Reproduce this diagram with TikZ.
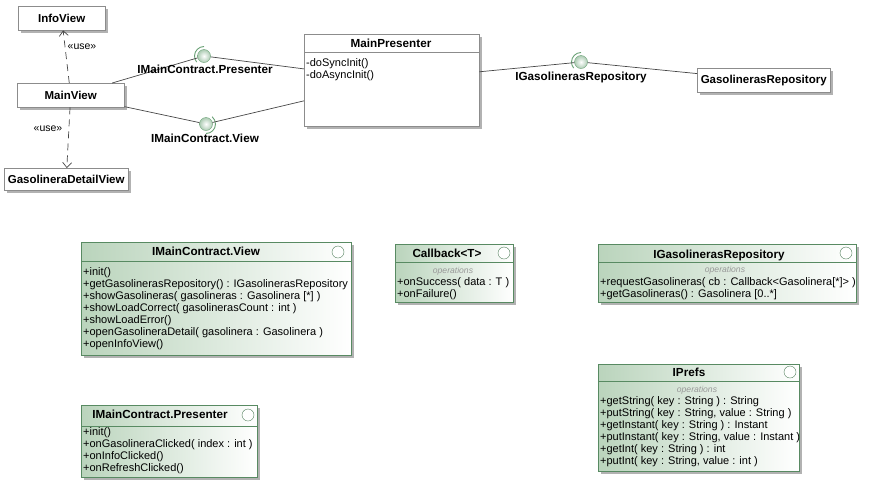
\documentclass[tikz,border=0pt]{standalone}
\usepackage{fontspec}
\setmainfont{Liberation Sans}
\usetikzlibrary{arrows.meta,shadows}

\definecolor{ifborder}{RGB}{88,138,98}
\definecolor{ifgreen}{RGB}{186,212,188}
\definecolor{ballgreen}{RGB}{104,160,116}
\definecolor{linegray}{RGB}{70,70,70}

\begin{document}
\begin{tikzpicture}[x=1pt,y=-1pt,
	box/.style={draw=black!45, fill=white, anchor=north west, inner sep=0pt,
		font=\fontsize{11.5}{14}\selectfont\bfseries,
		drop shadow={shadow xshift=3pt, shadow yshift=-3pt, fill=black!30, opacity=1}},
	ifbox/.style={draw=ifborder, line width=0.8pt, left color=ifgreen, right color=white,
		anchor=north west, inner sep=0pt,
		drop shadow={shadow xshift=3pt, shadow yshift=-3pt, fill=black!30, opacity=1}},
	clsname/.style={font=\fontsize{11.7}{14}\selectfont\bfseries, anchor=base, inner sep=0pt},
	ops/.style={font=\fontsize{11}{12}\selectfont, align=left, anchor=north west, inner sep=0pt},
	opslabel/.style={font=\fontsize{8.6}{10}\selectfont\itshape, text=black!40, anchor=base, inner sep=0pt},
	icon/.style={circle, draw=ballgreen!80!black, fill=white, minimum size=12pt, inner sep=0pt},
	ball/.style={circle, draw=ballgreen, inner color=white, outer color=ballgreen!55, minimum size=13pt, inner sep=0pt},
	socket/.style={draw=ballgreen, line width=0.9pt},
	wire/.style={draw=linegray, line width=0.7pt},
	usedep/.style={draw=linegray, line width=0.7pt, dash pattern=on 7pt off 5pt,
		-{Straight Barb[length=5pt,width=9pt]}},
	stereo/.style={font=\fontsize{10.5}{12}\selectfont, inner sep=0pt}
]
\useasboundingbox (0,0) rectangle (871,491);

% views
\node[box, minimum width=87pt, minimum height=24pt] (infoView) at (18,6) {InfoView};
\node[box, minimum width=107pt, minimum height=24pt] (mainView) at (17,83) {MainView};
\node[box, minimum width=124pt, minimum height=22pt] (detailView) at (4,168) {GasolineraDetailView};

\draw[usedep] (mainView) -- (infoView);
\draw[usedep] (mainView) -- (detailView);
\node[stereo] (useInfo) at (82,47) {«use»};
\node[stereo] (useDetail) at (48,129) {«use»};

% presenter
\node[box, minimum width=175pt, minimum height=92pt] (mainPresenter) at (304,34) {};
\node[clsname] (mainPresenterName) at (391,47) {MainPresenter};
\draw[black!45] (mainPresenter.west |- 0,52) -- (mainPresenter.east |- 0,52);
\node[ops] (mainPresenterOps) at (306,58) {-doSyncInit()\\-doAsyncInit()};

\node[box, minimum width=133pt, minimum height=24pt] (gasRepo) at (697,68) {GasolinerasRepository};

% provided interfaces
\node[ball] (ballP) at (204,56) {};
\node[ball] (ballV) at (206,124) {};
\node[ball] (ballR) at (581,62) {};
\draw[socket] ([shift={(90:9.5pt)}]ballP.center) arc[start angle=90, end angle=220, radius=9.5pt];
\draw[socket] ([shift={(-90:9.5pt)}]ballV.center) arc[start angle=-90, end angle=50, radius=9.5pt];
\draw[socket] ([shift={(90:9.5pt)}]ballR.center) arc[start angle=90, end angle=220, radius=9.5pt];

\draw[wire] (mainView) -- (ballP);
\draw[wire] (ballP) -- (mainPresenter);
\draw[wire] (mainView) -- (ballV);
\draw[wire] (ballV) -- (mainPresenter);
\draw[wire] (mainPresenter) -- (ballR);
\draw[wire] (ballR) -- (gasRepo);

\node[clsname] (lblP) at (205,73) {IMainContract.Presenter};
\node[clsname] (lblV) at (205,142) {IMainContract.View};
\node[clsname] (lblR) at (581,80) {IGasolinerasRepository};

% IMainContract.View
\node[ifbox, minimum width=270pt, minimum height=113pt] (viewIf) at (81,242) {};
\draw[ifborder] (viewIf.west |- 0,261) -- (viewIf.east |- 0,261);
\node[clsname] (viewIfName) at (206,255) {IMainContract.View};
\node[icon] (viewIfIcon) at (338,252) {};
\node[ops] (viewIfOps) at (83,267) {+init()\\+getGasolinerasRepository() : IGasolinerasRepository\\+showGasolineras( gasolineras : Gasolinera [*] )\\+showLoadCorrect( gasolinerasCount : int )\\+showLoadError()\\+openGasolineraDetail( gasolinera : Gasolinera )\\+openInfoView()};

% Callback<T>
\node[ifbox, minimum width=118pt, minimum height=58pt] (callbackIf) at (395,244) {};
\draw[ifborder] (callbackIf.west |- 0,262) -- (callbackIf.east |- 0,262);
\node[clsname] (callbackIfName) at (447,257) {Callback<T>};
\node[icon] (callbackIfIcon) at (504,253) {};
\node[opslabel] (callbackIfLabel) at (453,273) {operations};
\node[ops] (callbackIfOps) at (397,277) {+onSuccess( data : T )\\+onFailure()};

% IGasolinerasRepository
\node[ifbox, minimum width=258pt, minimum height=58pt] (repoIf) at (598,244) {};
\draw[ifborder] (repoIf.west |- 0,262) -- (repoIf.east |- 0,262);
\node[clsname] (repoIfName) at (719,258) {IGasolinerasRepository};
\node[icon] (repoIfIcon) at (846,253) {};
\node[opslabel] (repoIfLabel) at (725,272) {operations};
\node[ops] (repoIfOps) at (600,277) {+requestGasolineras( cb : Callback<Gasolinera[*]> )\\+getGasolineras() : Gasolinera [0..*]};

% IPrefs
\node[ifbox, minimum width=201pt, minimum height=107pt] (prefsIf) at (598,364) {};
\draw[ifborder] (prefsIf.west |- 0,381) -- (prefsIf.east |- 0,381);
\node[clsname] (prefsIfName) at (689,376) {IPrefs};
\node[icon] (prefsIfIcon) at (790,372) {};
\node[opslabel] (prefsIfLabel) at (697,392) {operations};
\node[ops] (prefsIfOps) at (600,396) {+getString( key : String ) : String\\+putString( key : String, value : String )\\+getInstant( key : String ) : Instant\\+putInstant( key : String, value : Instant )\\+getInt( key : String ) : int\\+putInt( key : String, value : int )};

% IMainContract.Presenter
\node[ifbox, minimum width=176pt, minimum height=72pt] (presenterIf) at (81,405) {};
\draw[ifborder] (presenterIf.west |- 0,426) -- (presenterIf.east |- 0,426);
\node[clsname] (presenterIfName) at (160,418) {IMainContract.Presenter};
\node[icon] (presenterIfIcon) at (248,415) {};
\node[ops] (presenterIfOps) at (83,427) {+init()\\+onGasolineraClicked( index : int )\\+onInfoClicked()\\+onRefreshClicked()};
\end{tikzpicture}
\end{document}
